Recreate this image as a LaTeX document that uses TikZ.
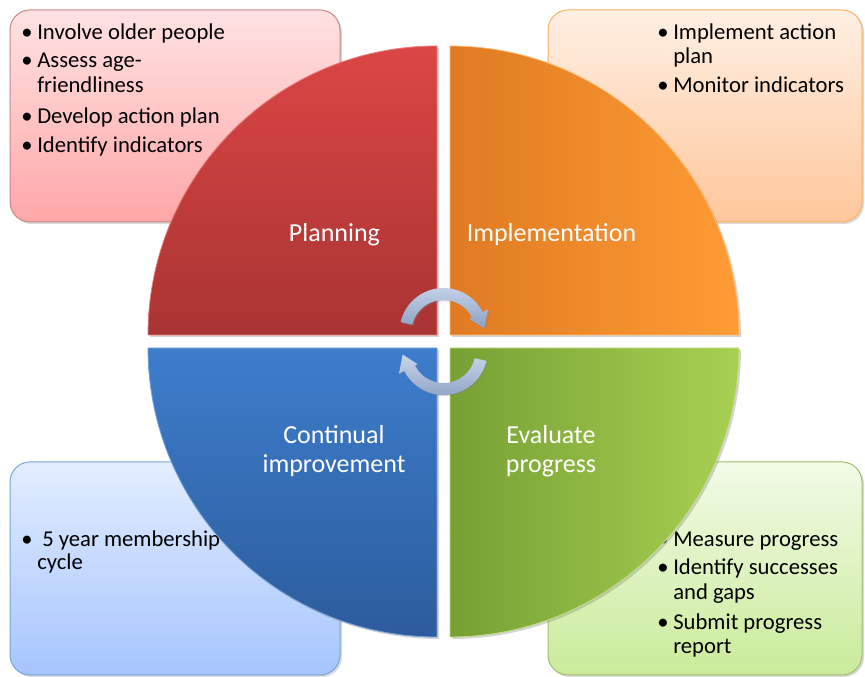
\documentclass[tikz,border=0pt]{standalone}
\usepackage{fontspec}
\setmainfont{Carlito}
\usetikzlibrary{shadows}

\definecolor{planA}{HTML}{DB4644}
\definecolor{planB}{HTML}{A83433}
\definecolor{implA}{HTML}{DF7A22}
\definecolor{implB}{HTML}{FF9C34}
\definecolor{contA}{HTML}{3E7DCC}
\definecolor{contB}{HTML}{2C5C9C}
\definecolor{evalA}{HTML}{76A034}
\definecolor{evalB}{HTML}{A8D152}
\definecolor{turnA}{HTML}{C8D5EA}
\definecolor{turnB}{HTML}{8CA1C4}
\definecolor{planBoxA}{HTML}{FFE2E2}
\definecolor{planBoxB}{HTML}{FFA7A7}
\definecolor{implBoxA}{HTML}{FFEFE3}
\definecolor{implBoxB}{HTML}{FFC79B}
\definecolor{contBoxA}{HTML}{E2EDFF}
\definecolor{contBoxB}{HTML}{A6C5FF}
\definecolor{evalBoxA}{HTML}{F2FBE7}
\definecolor{evalBoxB}{HTML}{CAEB9A}

\begin{document}
\begin{tikzpicture}[x=0.75pt, y=0.75pt]
  \tikzstyle{box}=[rounded corners=15pt, line width=0.75pt, drop shadow={shadow xshift=1.5pt, shadow yshift=-1.5pt, opacity=0.3}]
  \tikzstyle{quarter}=[drop shadow={shadow xshift=1.5pt, shadow yshift=-1.5pt, opacity=0.35}]
  \tikzstyle{turn}=[top color=turnA, bottom color=turnB, drop shadow={shadow xshift=1pt, shadow yshift=-1pt, opacity=0.3}]
  \tikzstyle{txt}=[anchor=base west, inner sep=0pt, font=\fontsize{17}{19}\selectfont]
  \tikzstyle{bul}=[anchor=base, inner sep=0pt, font=\fontsize{17}{19}\selectfont]
  \tikzstyle{phase}=[anchor=base, inner sep=0pt, text=white, font=\fontsize{19.5}{22}\selectfont]

  \useasboundingbox (0,0) rectangle (865,677);

  % boxes behind the circle
  \path[box, draw=planB!60!white, top color=planBoxA, bottom color=planBoxB]
    (10,455) rectangle (340,667);
  \path[box, draw=implB!80!white, top color=implBoxA, bottom color=implBoxB]
    (548,455) rectangle (862,667);
  \path[box, draw=contA!70!white, top color=contBoxA, bottom color=contBoxB]
    (10,2) rectangle (340,215);
  \path[box, draw=evalA!70!white, top color=evalBoxA, bottom color=evalBoxB]
    (548,2) rectangle (862,215);

  \node[bul] (b1) at (27, 637) {\textbullet};
  \node[txt] (p1) at (37, 637) {Involve older people};
  \node[bul] (b2) at (27, 609) {\textbullet};
  \node[txt] (p2) at (37, 609) {Assess age-};
  \node[txt] (p3) at (37, 584) {friendliness};
  \node[bul] (b3) at (27, 553) {\textbullet};
  \node[txt] (p4) at (37, 553) {Develop action plan};
  \node[bul] (b4) at (27, 524) {\textbullet};
  \node[txt] (p5) at (37, 524) {Identify indicators};

  \node[bul] (b5) at (663, 637) {\textbullet};
  \node[txt] (i1) at (673, 637) {Implement action};
  \node[txt] (i2) at (673, 613) {plan};
  \node[bul] (b6) at (663, 584) {\textbullet};
  \node[txt] (i3) at (673, 584) {Monitor indicators};

  \node[bul] (b7) at (27, 130) {\textbullet};
  \node[txt] (c1) at (42, 130) {5 year membership};
  \node[txt] (c2) at (37, 107) {cycle};

  \node[bul] (b8) at (663, 130) {\textbullet};
  \node[txt] (e1) at (673, 130) {Measure progress};
  \node[bul] (b9) at (663, 102) {\textbullet};
  \node[txt] (e2) at (673, 102) {Identify successes};
  \node[txt] (e3) at (673, 77) {and gaps};
  \node[bul] (b10) at (663, 47) {\textbullet};
  \node[txt] (e4) at (673, 47) {Submit progress};
  \node[txt] (e5) at (673, 23) {report};

  % four quarters
  \path[quarter, top color=planA, bottom color=planB, draw=planA!70!white, line width=0.6pt]
    (437,342) -- (148,342) arc[start angle=180, end angle=90, radius=289] -- cycle;
  \path[quarter, left color=implA, right color=implB, draw=implB!70!white, line width=0.6pt]
    (450,342) -- (450,631) arc[start angle=90, end angle=0, radius=289] -- cycle;
  \path[quarter, top color=contA, bottom color=contB, draw=contA!70!white, line width=0.6pt]
    (437,329) -- (437,40) arc[start angle=270, end angle=180, radius=289] -- cycle;
  \path[quarter, left color=evalA, right color=evalB, draw=evalB!70!white, line width=0.6pt]
    (450,329) -- (739,329) arc[start angle=0, end angle=-90, radius=289] -- cycle;

  % turning arrows in the middle
  \begin{scope}[shift={(443.5,345)}]
    \path[turn] (167:44) arc[start angle=167, end angle=27, radius=44] -- (27:50) -- (5:41)
      -- (27:29) -- (27:32) arc[start angle=27, end angle=167, radius=32] -- cycle;
  \end{scope}
  \begin{scope}[shift={(443.5,326)}]
    \path[turn] (-13:44) arc[start angle=-13, end angle=-153, radius=44] -- (-153:50) -- (-175:41)
      -- (-153:29) -- (-153:32) arc[start angle=-153, end angle=-13, radius=32] -- cycle;
  \end{scope}

  \node[phase] (plan) at (334.5, 435) {Planning};
  \node[phase] (impl) at (551.5, 435) {Implementation};
  \node[phase] (cont1) at (334, 233) {Continual};
  \node[phase] (cont2) at (334, 204) {improvement};
  \node[phase] (eval1) at (551, 233) {Evaluate};
  \node[phase] (eval2) at (551, 204) {progress};

\end{tikzpicture}
\end{document}
